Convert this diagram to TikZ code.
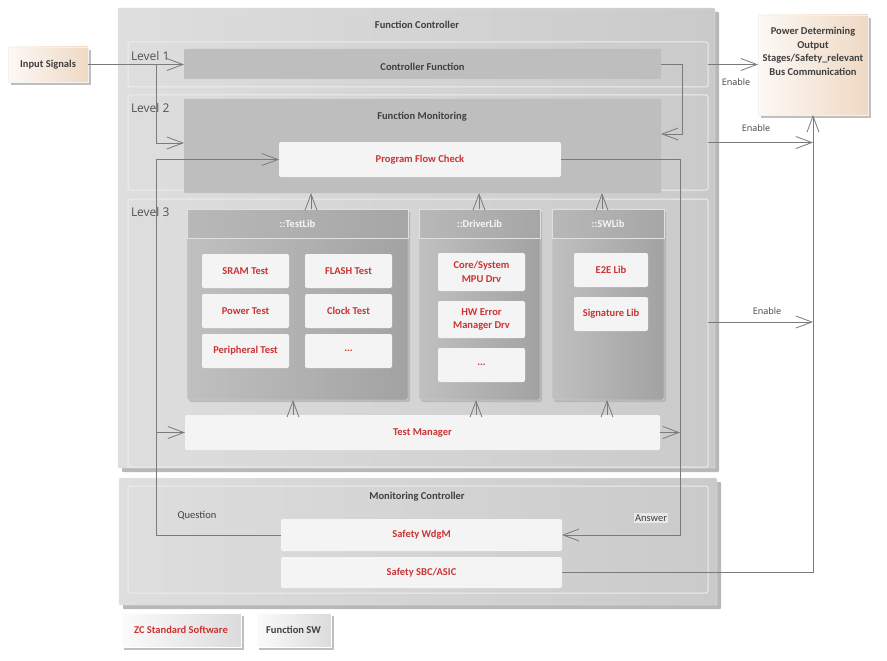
\documentclass[tikz,border=0pt]{standalone}
\usepackage{fontspec}
\setmainfont{Carlito}
\newfontfamily\levelfont{Open Sans}
\usetikzlibrary{arrows.meta,shadows}

\definecolor{eared}{HTML}{CC3333}
\definecolor{eatext}{HTML}{404040}
\definecolor{ealine}{HTML}{7A7A7A}
\definecolor{fcL}{HTML}{DEDEDE}
\definecolor{fcR}{HTML}{CACACA}
\definecolor{darkc}{HTML}{BEBEBE}
\definecolor{boxw}{HTML}{F4F4F4}
\definecolor{libL}{HTML}{C0C0C0}
\definecolor{libR}{HTML}{A2A2A2}
\definecolor{headL}{HTML}{B8B8B8}
\definecolor{headR}{HTML}{A6A6A6}
\definecolor{peachl}{HTML}{FDF9F5}
\definecolor{peachd}{HTML}{EFD9C4}
\newcommand{\eafont}{\fontsize{10.5pt}{13.7pt}\selectfont\bfseries}
\newcommand{\eaplain}{\fontsize{10.5pt}{13pt}\selectfont}
\newcommand{\lvlfont}{\levelfont\fontsize{12pt}{14pt}\selectfont}
\newcommand{\enfont}{\levelfont\fontsize{9pt}{11pt}\selectfont}

\begin{document}
\begin{tikzpicture}[x=1pt, y=-1pt,
    every node/.style={inner sep=0pt, outer sep=0pt},
    outerbox/.style={rounded corners=1pt, left color=fcL, right color=fcR, draw=white!92!black,
        drop shadow={shadow xshift=4pt, shadow yshift=-4pt, fill=black!28, opacity=1}},
    levelbox/.style={draw=white!93!black, line width=1pt, rounded corners=2pt},
    darkbox/.style={fill=darkc, rounded corners=1pt},
    whitebox/.style={fill=boxw, rounded corners=2pt, text=eared, font=\eafont, align=center},
    libbox/.style={left color=libL, right color=libR, draw=white!88!black, rounded corners=2pt,
        drop shadow={shadow xshift=2pt, shadow yshift=-2pt, fill=black!35, opacity=0.6}},
    libhead/.style={left color=headL, right color=headR, draw=white!88!black, anchor=north,
        text=white!93!gray, font=\eafont},
    peachbox/.style={left color=peachl, right color=peachd, draw=white!90!gray,
        drop shadow={shadow xshift=3pt, shadow yshift=-3pt, fill=black!25, opacity=1}},
    legendbox/.style={left color=white!97!gray, right color=black!14, draw=white, font=\eafont,
        drop shadow={shadow xshift=3pt, shadow yshift=-3pt, fill=black!25, opacity=1}},
    title/.style={text=eatext, font=\eafont, align=center},
    lvl/.style={text=eatext!90!white, font=\lvlfont, anchor=west},
    note/.style={text=eatext, font=\enfont},
    conn/.style={draw=ealine, line width=0.8pt},
    arr/.style={conn, -{Straight Barb[length=16pt, width=12pt, line width=0.8pt]}}]

    \useasboundingbox (0,0) rectangle (887,661);

    % Controlador de funcao
    \node[outerbox, minimum width=597pt, minimum height=460pt] (fctrl) at (416.5,238) {};
    \node[title] (fctrl-t) at (417,25) {Function Controller};

    % Niveis
    \node[levelbox, minimum width=580pt, minimum height=45pt] (lvl1) at (418,64.5) {};
    \node[levelbox, minimum width=580pt, minimum height=95pt] (lvl2) at (418,142.5) {};
    \node[levelbox, minimum width=580pt, minimum height=268pt] (lvl3) at (418,333) {};
    \node[lvl] (lvl1-t) at (131,56) {Level 1};
    \node[lvl] (lvl2-t) at (131,108) {Level 2};
    \node[lvl] (lvl3-t) at (131,212) {Level 3};

    % Nivel 1 e 2
    \node[darkbox, minimum width=477pt, minimum height=30pt] (ctrlfn) at (422.5,64) {};
    \node[title] (ctrlfn-t) at (422.5,67) {Controller Function};
    \node[darkbox, minimum width=477pt, minimum height=94pt] (fmon) at (422.5,146) {};
    \node[title] (fmon-t) at (422,117) {Function Monitoring};
    \node[whitebox, minimum width=282pt, minimum height=35pt] (pfc) at (420,159.5) {Program Flow Check};

    % Bibliotecas
    \node[libbox, minimum width=221pt, minimum height=191pt] (testlib) at (297.5,304.5) {};
    \node[libbox, minimum width=121pt, minimum height=191pt] (drvlib) at (479.5,304.5) {};
    \node[libbox, minimum width=112pt, minimum height=191pt] (swlib) at (608,304.5) {};
    \node[libhead, minimum width=221pt, minimum height=29pt] (testlib-h) at (testlib.north) {::TestLib};
    \node[libhead, minimum width=121pt, minimum height=29pt] (drvlib-h) at (drvlib.north) {::DriverLib};
    \node[libhead, minimum width=112pt, minimum height=29pt] (swlib-h) at (swlib.north) {::SWLib};

    % Testes
    \node[whitebox, minimum width=87pt, minimum height=34pt] (sram) at (245.5,271) {SRAM Test};
    \node[whitebox, minimum width=87pt, minimum height=34pt] (flash) at (348.5,271) {FLASH Test};
    \node[whitebox, minimum width=87pt, minimum height=34pt] (pwr) at (245.5,311) {Power Test};
    \node[whitebox, minimum width=87pt, minimum height=34pt] (clock) at (348.5,311) {Clock Test};
    \node[whitebox, minimum width=87pt, minimum height=34pt] (periph) at (245.5,351) {Peripheral Test};
    \node[whitebox, minimum width=87pt, minimum height=34pt] (tdots) at (348.5,351) {...};

    % Drivers e SW
    \node[whitebox, minimum width=87pt, minimum height=38pt] (core) at (481.5,272) {Core/System\\MPU Drv};
    \node[whitebox, minimum width=87pt, minimum height=37pt] (hwerr) at (481.5,319.5) {HW Error\\Manager Drv};
    \node[whitebox, minimum width=87pt, minimum height=34pt] (ddots) at (481.5,365) {...};
    \node[whitebox, minimum width=74pt, minimum height=34pt] (e2e) at (611,270) {E2E Lib};
    \node[whitebox, minimum width=74pt, minimum height=34pt] (sig) at (611,314) {Signature Lib};

    % Gestor de testes
    \node[whitebox, minimum width=475pt, minimum height=35pt] (tm) at (422.5,432.5) {Test Manager};

    % Controlador de monitorizacao
    \node[outerbox, minimum width=598pt, minimum height=127pt] (mctrl) at (418,541.5) {};
    \node[levelbox, minimum width=580pt, minimum height=107pt] (mlvl) at (418,539.5) {};
    \node[title] (mctrl-t) at (417,497) {Monitoring Controller};
    \node[whitebox, minimum width=281pt, minimum height=32pt] (wdgm) at (421.5,535) {Safety WdgM};
    \node[whitebox, minimum width=281pt, minimum height=31pt] (sbc) at (421.5,572.5) {Safety SBC/ASIC};

    % Entradas e saidas
    \node[peachbox, title, minimum width=80pt, minimum height=35pt] (input) at (48,64.5) {Input Signals};
    \node[peachbox, minimum width=110pt, minimum height=100pt] (power) at (813,65) {};
    \node[title] (power-t) at (813,51.5) {Power Determining\\Output\\Stages/Safety\_relevant\\Bus Communication};

    % Legenda
    \node[legendbox, text=eared, minimum width=120pt, minimum height=34pt] (zcsw) at (181,630) {ZC Standard Software};
    \node[legendbox, text=eatext, minimum width=75pt, minimum height=34pt] (fsw) at (293.5,630) {Function SW};

    % Pontos de dobra
    \coordinate (qbend) at (156,535);
    \coordinate (ansbend) at (680,535);
    \coordinate (cfbend) at (682,134);
    \coordinate (fmonin) at ([yshift=3pt]fmon.west);
    \coordinate (en3) at ([yshift=11pt]lvl3.east);

    % Ligacoes de entrada
    \draw[arr] (input.east) -- (input.east -| ctrlfn.west);
    \draw[arr] (input.east -| qbend) |- (fmonin);
    \draw[arr] (ctrlfn.east) -| (cfbend) -- (cfbend -| fmon.east);

    % Pergunta e resposta
    \draw[arr] (wdgm.west) -- (qbend) |- (pfc.west);
    \draw[arr] (qbend |- tm.west) -- (tm.west);
    \draw[arr] (pfc.east) -| (ansbend) -- (wdgm.east);
    \draw[arr] (tm.east) -- (tm.east -| ansbend);

    % Ligacoes entre bibliotecas
    \foreach \xa/\lib in {293/testlib, 476/drvlib, 607/swlib}
        \draw[arr] (\xa,0 |- tm.north) -- (\xa,0 |- \lib.south);
    \foreach \xa/\lib in {311/testlib, 479/drvlib, 602/swlib}
        \draw[arr] (\xa,0 |- \lib.north) -- (\xa,0 |- fmon.south);

    % Enable
    \draw[arr] (lvl1.east) -- (lvl1.east -| power.west);
    \draw[arr] (lvl2.east) -- (lvl2.east -| power.south);
    \draw[arr] (en3) -- (en3 -| power.south);
    \draw[arr] (sbc.east) -| (power.south);
    \node[note] (en1-t) at (736,82) {Enable};
    \node[note] (en2-t) at (756,128) {Enable};
    \node[note] (en3-t) at (767,311) {Enable};

    % Rotulos
    \node[text=eatext, font=\eaplain] (q-t) at (197,516) {Question};
    \node[fill=black!9, text=eatext, font=\eaplain, inner sep=1.5pt] (a-t) at (651,518) {Answer};

\end{tikzpicture}
\end{document}
